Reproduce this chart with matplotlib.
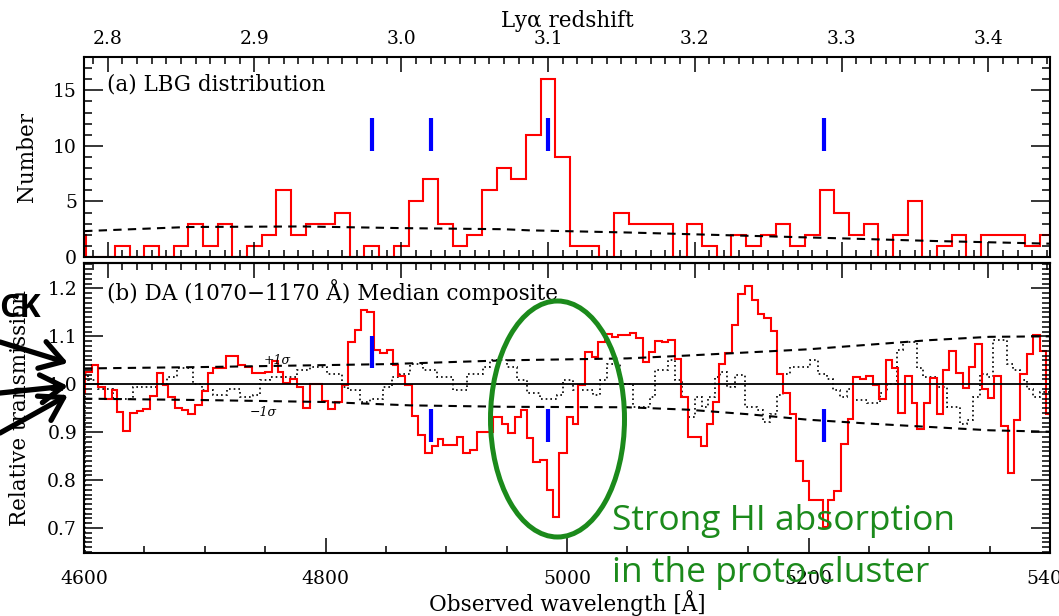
import numpy as np
import matplotlib
matplotlib.use("Agg")
import matplotlib.pyplot as plt
from matplotlib.patches import Ellipse
from matplotlib.ticker import FixedLocator, FixedFormatter, MultipleLocator

LYA = 1215.67

# ---- (a) LBG redshift distribution, bins of dz = 0.01 centred on 2.78 .. 3.44
lbg_z = np.round(np.arange(2.78, 3.445, 0.01), 2)
lbg_counts = [2, 0, 0, 1, 0, 1, 0, 1, 3, 1,
              3, 0, 1, 2, 6, 2, 3, 3, 4, 0,
              1, 0, 1, 5, 7, 3, 1, 2, 6, 8,
              7, 11, 16, 9, 1, 1, 0, 4, 3, 3,
              3, 0, 3, 1, 0, 2, 1, 2, 3, 1,
              2, 6, 4, 2, 3, 0, 2, 5, 0, 1,
              2, 0, 2, 2, 2, 1, 2]
expected_z = [2.784, 2.855, 2.933, 3.00, 3.07, 3.087, 3.156, 3.225, 3.294, 3.363, 3.442]
expected_n = [2.33, 2.7, 2.75, 2.6, 2.5, 2.4, 2.2, 1.95, 1.7, 1.44, 1.2]

# proto-cluster redshift spikes
spike_z = [2.98, 3.02, 3.10, 3.288]
spike_lo_b = [1.033, 0.880, 0.880, 0.880]
spike_hi_b = [1.100, 0.949, 0.949, 0.949]

# ---- (b) median composite of relative transmission (bin edges, values)
da_edges = [4590.0, 4600.8, 4606.3, 4611.9, 4617.4, 4622.8, 4627.1, 4632.5, 4638.1, 4643.6,
            4649.1, 4654.5, 4660.2, 4665.7, 4669.8, 4675.4, 4680.9, 4686.3, 4691.9, 4697.5,
            4702.9, 4707.1, 4718.0, 4727.7, 4733.3, 4738.8, 4749.8, 4755.4, 4761.0, 4765.0,
            4770.6, 4776.1, 4781.6, 4787.1, 4796.9, 4802.3, 4807.9, 4813.4, 4818.4, 4824.4,
            4829.4, 4834.6, 4840.4, 4845.2, 4850.7, 4856.2, 4860.3, 4865.8, 4871.4, 4876.9,
            4882.4, 4888.0, 4893.5, 4897.6, 4908.6, 4914.2, 4919.6, 4925.2, 4939.0, 4945.9,
            4951.4, 4956.9, 4961.9, 4967.1, 4972.1, 4977.7, 4983.2, 4988.7, 4993.6, 4999.8,
            5004.7, 5009.4, 5014.9, 5020.5, 5025.9, 5031.5, 5037.1, 5042.3, 5052.2, 5057.2,
            5062.7, 5068.2, 5072.9, 5078.4, 5084.0, 5089.4, 5094.4, 5099.9, 5110.8, 5116.2,
            5120.7, 5126.1, 5130.9, 5136.4, 5141.9, 5147.4, 5153.0, 5157.9, 5163.4, 5169.0,
            5173.7, 5179.2, 5184.7, 5189.7, 5195.2, 5200.7, 5211.8, 5216.4, 5221.4, 5226.9,
            5232.4, 5237.2, 5242.6, 5247.6, 5253.2, 5258.6, 5264.1, 5268.9, 5274.4, 5279.9,
            5285.5, 5290.1, 5295.9, 5300.6, 5306.1, 5311.6, 5316.6, 5322.1, 5327.7, 5333.1,
            5337.9, 5343.4, 5348.3, 5353.9, 5359.4, 5364.9, 5370.1, 5375.1, 5380.6, 5386.1,
            5391.6, 5396.5, 5402.0]
da_values = [0.981, 1.026, 1.041, 0.994, 0.970, 0.989, 0.942, 0.902, 0.940, 0.944,
             0.949, 0.975, 1.024, 0.999, 0.974, 0.951, 0.947, 0.937, 0.956, 0.986,
             1.024, 1.033, 1.058, 1.041, 1.036, 1.023, 1.026, 1.049, 1.026, 1.003,
             1.012, 0.994, 0.951, 1.000, 0.965, 0.949, 0.963, 0.998, 1.088, 1.114,
             1.154, 1.151, 1.071, 1.065, 1.071, 1.040, 1.017, 0.998, 0.933, 0.894,
             0.856, 0.871, 0.885, 0.873, 0.890, 0.856, 0.863, 0.901, 0.932, 0.917,
             0.899, 0.932, 0.947, 0.887, 0.838, 0.842, 0.779, 0.724, 0.856, 0.932,
             0.918, 0.998, 1.067, 1.057, 1.088, 1.104, 1.099, 1.102, 1.106, 1.097,
             1.046, 1.067, 1.090, 1.089, 1.093, 1.053, 0.974, 0.890, 0.871, 0.917,
             0.963, 1.043, 1.065, 1.123, 1.189, 1.204, 1.175, 1.146, 1.139, 1.111,
             1.021, 0.982, 0.937, 0.840, 0.799, 0.758, 0.703, 0.758, 0.778, 0.876,
             0.928, 1.015, 1.012, 1.017, 0.999, 0.970, 1.050, 1.033, 0.940, 1.017,
             0.960, 0.906, 0.960, 1.014, 0.937, 1.029, 1.069, 1.024, 0.993, 1.036,
             1.083, 0.991, 0.972, 1.018, 0.913, 0.814, 0.925, 1.021, 1.064, 1.102,
             1.069, 0.937]

# random-field comparison (dotted)
rnd_edges = [4600.8, 4603.6, 4611.9, 4624.3, 4640.9, 4660.2, 4668.4, 4676.8, 4690.5, 4697.5,
             4707.1, 4718.1, 4729.2, 4740.2, 4745.8, 4754.0, 4776.1, 4787.1, 4801.0, 4813.4,
             4818.9, 4828.6, 4836.8, 4847.9, 4854.9, 4861.7, 4869.9, 4881.1, 4892.1, 4905.9,
             4916.9, 4930.7, 4936.3, 4950.1, 4958.3, 4966.6, 4977.7, 4991.4, 4997.0, 5005.2,
             5021.8, 5027.3, 5032.9, 5043.9, 5054.9, 5068.8, 5072.9, 5084.0, 5089.4, 5095.0,
             5100.5, 5106.0, 5111.5, 5117.1, 5122.5, 5126.7, 5132.3, 5139.1, 5147.4, 5157.1,
             5162.6, 5168.2, 5173.6, 5179.2, 5184.7, 5201.3, 5208.1, 5215.1, 5220.6, 5226.1,
             5231.6, 5237.2, 5248.2, 5259.2, 5264.7, 5273.1, 5278.5, 5289.6, 5295.2, 5306.2,
             5314.4, 5325.5, 5331.0, 5336.6, 5342.1, 5347.6, 5353.2, 5364.2, 5369.7, 5375.3,
             5380.7, 5386.3, 5391.8, 5402.0]
rnd_values = [1.022, 1.008, 0.991, 0.970, 0.994, 1.001, 1.015, 1.033, 1.001, 0.988,
              0.977, 0.991, 0.974, 0.977, 1.008, 1.015, 1.029, 1.036, 1.022, 0.994,
              0.988, 0.963, 0.970, 0.994, 1.015, 1.022, 1.043, 1.029, 1.015, 0.988,
              1.022, 1.036, 1.050, 1.036, 1.008, 0.981, 0.970, 0.977, 1.008, 0.988,
              0.977, 1.008, 1.043, 1.001, 0.953, 0.974, 1.029, 1.050, 1.008, 0.974,
              0.932, 0.974, 0.953, 0.974, 1.015, 1.026, 0.994, 1.019, 0.953, 0.946,
              0.922, 0.939, 0.977, 1.022, 1.036, 1.050, 1.022, 1.012, 0.988, 0.974,
              0.991, 0.967, 0.960, 0.981, 1.001, 1.071, 1.088, 1.033, 1.015, 0.994,
              0.953, 0.918, 0.925, 0.974, 1.022, 1.015, 1.092, 1.043, 1.029, 1.008,
              0.991, 0.974, 0.984]

sig_hi_lam = [4600, 4700, 4850, 4950, 5050, 5100, 5200, 5300, 5350, 5400]
sig_hi = [1.033, 1.036, 1.042, 1.050, 1.054, 1.060, 1.073, 1.092, 1.099, 1.100]
sig_lo_lam = [4600, 4700, 4800, 4870, 4950, 5050, 5100, 5150, 5200, 5250, 5300, 5350, 5400]
sig_lo = [0.970, 0.967, 0.963, 0.956, 0.953, 0.952, 0.947, 0.9375, 0.926, 0.918, 0.911, 0.904, 0.901]

GREEN = "#1b8a1b"
LABEL_SIZE = 15.5


def z2lam(z):
    return LYA * (1 + np.asarray(z, dtype=float))


def lam2z(lam):
    return np.asarray(lam, dtype=float) / LYA - 1


def style_y(ax, major, minor):
    ax.yaxis.set_major_locator(MultipleLocator(major))
    ax.yaxis.set_minor_locator(MultipleLocator(minor))
    ax.tick_params(axis="y", which="both", direction="in", left=True, right=True, width=1.1, pad=5)
    ax.tick_params(axis="y", which="major", length=13.5)
    ax.tick_params(axis="y", which="minor", length=5.5)


plt.rcParams["font.family"] = "DejaVu Serif"
plt.rcParams["font.size"] = 13.5
plt.rcParams["axes.linewidth"] = 1.5

fig = plt.figure(figsize=(10.59, 6.16), dpi=100)
ax1 = fig.add_axes([84 / 1059, 1 - 257 / 616, 966 / 1059, 200 / 616])
ax2 = fig.add_axes([84 / 1059, 1 - 553 / 616, 966 / 1059, 290 / 616])

# ---------------- panel (a)
z_edges = np.append(lbg_z - 0.005, lbg_z[-1] + 0.005)
ax1.stairs(lbg_counts, z2lam(z_edges), color="red", lw=1.5)
ax1.plot(z2lam(expected_z), expected_n, color="black", lw=1.5, dashes=(4, 3))
ax1.vlines(z2lam(spike_z), 9.5, 12.5, color="blue", lw=3)
ax1.set_xlim(4600, 5400)
ax1.set_ylim(0, 18)

major_z = np.round(np.arange(2.8, 3.45, 0.1), 1)
minor_z = np.round(np.arange(2.78, 3.445, 0.01), 2)
ax1.xaxis.set_major_locator(FixedLocator(z2lam(major_z)))
ax1.xaxis.set_major_formatter(FixedFormatter([f"{z:.1f}" for z in major_z]))
ax1.xaxis.set_minor_locator(FixedLocator(z2lam(minor_z)))
ax1.tick_params(axis="x", which="both", direction="in", top=True, bottom=True,
                labeltop=True, labelbottom=False, width=1.1, pad=6.5)
ax1.tick_params(axis="x", which="major", length=11)
ax1.tick_params(axis="x", which="minor", length=5)
style_y(ax1, 5, 1)
ax1.set_xlabel("Lyα redshift", fontsize=LABEL_SIZE)
ax1.xaxis.set_label_position("top")
ax1.xaxis.label.set_verticalalignment("center")
ax1.xaxis.set_label_coords(0.5, (257 - 21) / 200)
ax1.set_ylabel("Number", fontsize=LABEL_SIZE)
ax1.yaxis.label.set_verticalalignment("center")
ax1.yaxis.set_label_coords((27 - 84) / 966, 0.5)
ax1.text(0.0238, 0.865, "(a) LBG distribution", transform=ax1.transAxes,
         va="center", ha="left", fontsize=LABEL_SIZE)

# ---------------- panel (b)
ax2.axhline(1.0, color="black", lw=1.3)
ax2.plot(sig_hi_lam, sig_hi, color="black", lw=1.5, dashes=(4, 3))
ax2.plot(sig_lo_lam, sig_lo, color="black", lw=1.5, dashes=(4, 3))
ax2.stairs(rnd_values, rnd_edges, color="black", lw=1.2, linestyle=(0, (1, 1.8)))
ax2.stairs(da_values, da_edges, color="red", lw=1.5)
ax2.vlines(z2lam(spike_z), spike_lo_b, spike_hi_b, color="blue", lw=3, zorder=5)
ax2.set_xlim(4600, 5400)
ax2.set_ylim(0.648, 1.253)

ax2.xaxis.set_major_locator(MultipleLocator(200))
ax2.xaxis.set_minor_locator(MultipleLocator(50))
ax2.tick_params(axis="x", which="both", direction="in", top=False, bottom=True, width=1.1, pad=12)
ax2.tick_params(axis="x", which="major", length=11)
ax2.tick_params(axis="x", which="minor", length=5)
style_y(ax2, 0.1, 0.01)

sec = ax2.secondary_xaxis("top", functions=(lam2z, z2lam))
sec.xaxis.set_major_locator(MultipleLocator(0.1))
sec.xaxis.set_minor_locator(MultipleLocator(0.01))
sec.tick_params(axis="x", which="both", direction="in", labeltop=False, width=1.1)
sec.tick_params(axis="x", which="major", length=11)
sec.tick_params(axis="x", which="minor", length=5)

ax2.set_xlabel("Observed wavelength [Å]", fontsize=LABEL_SIZE)
ax2.xaxis.label.set_verticalalignment("center")
ax2.xaxis.set_label_coords(0.5, (553 - 603) / 290)
ax2.set_ylabel("Relative transmission", fontsize=LABEL_SIZE)
ax2.yaxis.label.set_verticalalignment("center")
ax2.yaxis.set_label_coords((20 - 84) / 966, 0.5)
ax2.text(0.0238, 0.9, "(b) DA (1070\u22121170 Å) Median composite", transform=ax2.transAxes,
         va="center", ha="left", fontsize=LABEL_SIZE)
ax2.text(0.200, 0.6655, "+1σ", transform=ax2.transAxes, va="center", ha="center",
         fontsize=9, style="italic")
ax2.text(0.186, 0.486, "\u22121σ", transform=ax2.transAxes, va="center", ha="center",
         fontsize=9, style="italic")

# ---------------- slide annotations on top (pixel coordinates, y down)
ov = fig.add_axes([0, 0, 1, 1], zorder=10)
ov.set_xlim(0, 1059)
ov.set_ylim(616, 0)
ov.axis("off")
ov.patch.set_alpha(0)

for tail, head in [((0, 342), (68, 363)), ((0, 393), (68, 386)), ((0, 433), (68, 395))]:
    ov.annotate("", xy=head, xytext=tail,
                arrowprops=dict(arrowstyle="->,head_length=0.8,head_width=0.5",
                                mutation_scale=20, lw=3.8, color="black",
                                shrinkA=0, shrinkB=0))
ov.text(-1, 317, "CK", fontsize=23, fontweight="bold", family=["Open Sans", "DejaVu Sans"],
        va="baseline", ha="left", color="black")

ov.add_patch(Ellipse((557.5, 419), 134, 236, fill=False, lw=3.6, ec=GREEN))
ov.text(612, 530, "Strong HI absorption", fontsize=25.5, family=["Open Sans", "DejaVu Sans"],
        va="baseline", ha="left", color=GREEN)
ov.text(612, 582, "in the proto-cluster", fontsize=25.5, family=["Open Sans", "DejaVu Sans"],
        va="baseline", ha="left", color=GREEN)

fig.savefig("out.png", dpi=100)
